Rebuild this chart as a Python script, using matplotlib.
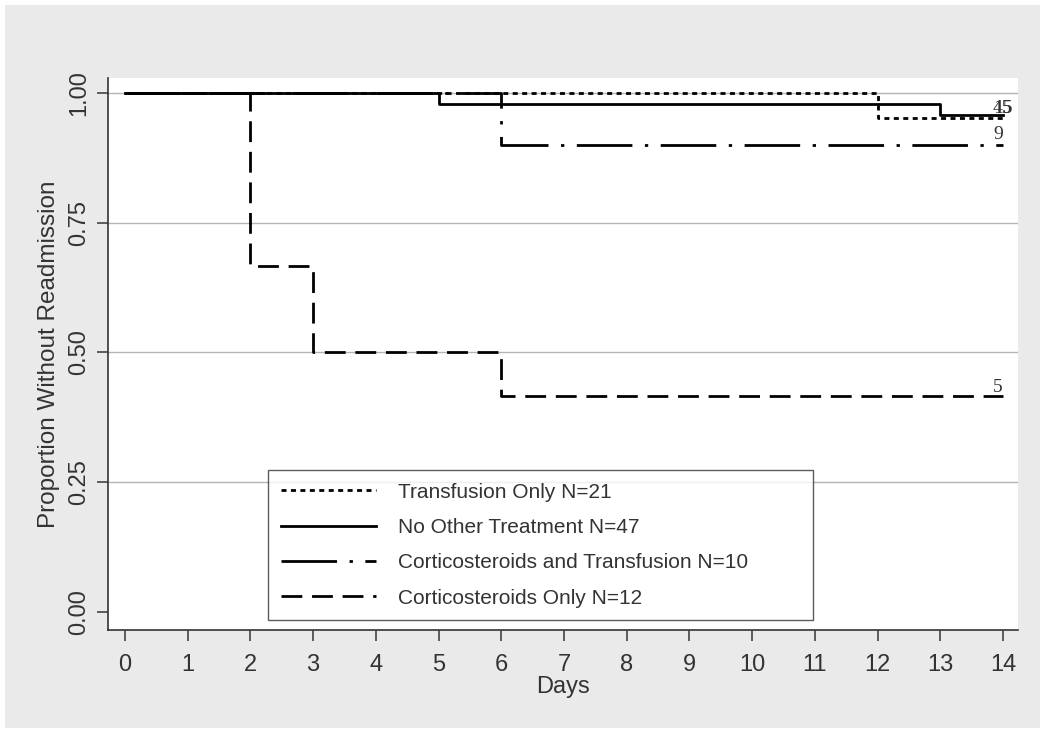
import matplotlib
matplotlib.use("Agg")
import matplotlib.pyplot as plt
from matplotlib.patches import Rectangle

plt.rcParams['font.family'] = ['Liberation Sans', 'DejaVu Sans']

# Kaplan-Meier step data (time, survival)
trans_t = [0, 12, 14]
trans_s = [1.0, 0.952, 0.952]
none_t = [0, 5, 13, 14]
none_s = [1.0, 0.979, 0.957, 0.957]
cortrans_t = [0, 6, 14]
cortrans_s = [1.0, 0.9, 0.9]
cort_t = [0, 2, 3, 6, 14]
cort_s = [1.0, 0.667, 0.5, 0.417, 0.417]

labels = ["Transfusion Only N=21", "No Other Treatment N=47",
          "Corticosteroids and Transfusion N=10", "Corticosteroids Only N=12"]
end_labels = [("15", 0.971), ("45", 0.971), ("9", 0.921), ("5", 0.433)]

xticks = list(range(0, 15))
yticks = [0.0, 0.25, 0.5, 0.75, 1.0]
ytick_labels = ["0.00", "0.25", "0.50", "0.75", "1.00"]

W, H = 1050, 735
fig = plt.figure(figsize=(W/100, H/100), dpi=100, facecolor='white')
fig.patches.append(Rectangle((5/W, 1 - 728/H), (1040-5)/W, (728-5)/H,
                             transform=fig.transFigure, facecolor='#eaeaea',
                             edgecolor='none', zorder=-10))
ax = fig.add_axes([108/W, 1 - 630/H, (1018-108)/W, (630-78)/H])
ax.set_facecolor('white')

for y in [0.25, 0.5, 0.75, 1.0]:
    ax.axhline(y, color='#b4b4b4', lw=1.0, zorder=0)

lw = 2.0
ax.step(trans_t, trans_s, where='post', color='black', lw=lw, linestyle=(0, (1.8, 1.6)), label=labels[0])
ax.step(none_t, none_s, where='post', color='black', lw=lw, linestyle='-', label=labels[1])
ax.step(cortrans_t, cortrans_s, where='post', color='black', lw=lw, linestyle=(0, (20, 4.5, 1.2, 4.5)), label=labels[2])
ax.step(cort_t, cort_s, where='post', color='black', lw=lw, linestyle=(0, (7.5, 3.5)), label=labels[3])

for txt, yv in end_labels:
    ax.text(13.84, yv, txt, fontsize=14, color='#333333', ha='left', va='center',
            family=['Liberation Serif'])

ax.set_xlim(-0.27, 14.24)
ax.set_ylim(-0.035, 1.029)
ax.set_xticks(xticks)
ax.set_yticks(yticks)
ax.set_yticklabels(ytick_labels, rotation=90, va='center')
ax.tick_params(axis='both', direction='out', length=8, width=1.2, color='#444444',
               labelsize=17, labelcolor='#333333')
ax.tick_params(axis='x', pad=9)
ax.tick_params(axis='y', pad=5)
for s in ['top', 'right']:
    ax.spines[s].set_visible(False)
for s in ['left', 'bottom']:
    ax.spines[s].set_color('#333333')
    ax.spines[s].set_linewidth(1.2)

ax.set_xlabel("Days", fontsize=17, color='#333333', labelpad=0)
ax.set_ylabel("Proportion Without Readmission", fontsize=17.5, color='#333333', labelpad=6)

leg = ax.legend(loc='lower left', bbox_to_anchor=((268-108)/910, (630-620)/552, (813-268)/910, (620-471)/552),
                mode='expand', frameon=True, fancybox=False, fontsize=15, handlelength=4.57,
                labelcolor='#333333', borderpad=0.6, labelspacing=0.78, handletextpad=1.06,
                borderaxespad=0)
leg.get_frame().set_edgecolor('#333333')
leg.get_frame().set_linewidth(1.0)

fig.savefig("out.png", dpi=100, facecolor='white')
